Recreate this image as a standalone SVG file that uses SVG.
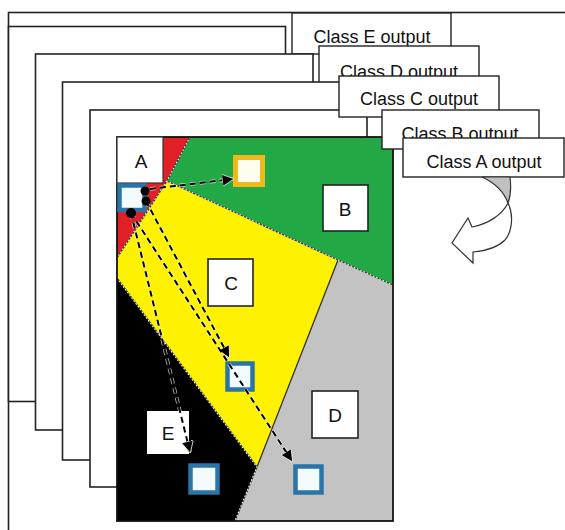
<svg xmlns="http://www.w3.org/2000/svg" width="565" height="530" viewBox="0 0 565 530">
<defs>
<style>
.page{fill:#fff;stroke:#222;stroke-width:1.6}
.cls{fill:#fff;stroke:#222;stroke-width:1.4}
.ct{font-family:"Liberation Sans",Arial,sans-serif;font-size:18px;fill:#111;text-anchor:middle}
.lbl{fill:#fff;stroke:#222;stroke-width:1.6}
.lt{font-family:"Liberation Sans",Arial,sans-serif;font-size:19px;fill:#111;text-anchor:middle}
.bnd{fill:none;stroke:#333;stroke-width:1.3}
.dot{fill:none;stroke:#fff;stroke-width:1.1;stroke-dasharray:1.5 2}
.halo{fill:none;stroke:#fff;stroke-width:3.6;stroke-dasharray:6 4;opacity:0.7}
.dash{fill:none;stroke:#000;stroke-width:2;stroke-dasharray:6 4}
.blue{fill:#f4fbff;stroke:#2a74a8;stroke-width:4.5}
</style>
<marker id="ah" viewBox="0 0 10 10" refX="9" refY="5" markerWidth="6" markerHeight="6" markerUnits="strokeWidth" orient="auto">
<path d="M0,0 L10,5 L0,10 z" fill="#000" stroke="#fff" stroke-width="0.6"/>
</marker>
</defs>
<rect width="565" height="530" fill="#fff"/>
<rect x="8.5" y="12.5" width="600" height="600" fill="#fff" stroke="#222" stroke-width="1.6"/>

<g id="page1"><rect class="page" x="8.5" y="26.5" width="277" height="375"/></g>
<g id="classE"><rect class="cls" x="292" y="13" width="159" height="41"/><text class="ct" x="372" y="43">Class E output</text></g>
<g id="page2"><rect class="page" x="35.5" y="54" width="277.5" height="376"/></g>
<g id="classD"><rect class="cls" x="319" y="46" width="160" height="37"/><text class="ct" x="399" y="78">Class D output</text></g>
<g id="page3"><rect class="page" x="62.5" y="82" width="280" height="378"/></g>
<g id="page4"><rect class="page" x="90" y="110" width="277" height="377"/></g>
<g id="classC"><rect class="cls" x="339" y="76" width="160" height="41"/><text class="ct" x="419" y="105">Class C output</text></g>

<g id="map">
<rect x="117" y="137" width="276" height="384" fill="#fff"/>
<polygon points="117,137 190,137 167,181 117,258" fill="#e01f26"/>
<polygon points="190,137 393,137 393,285 338,260 167,181" fill="#23a846"/>
<polygon points="167,181 338,260 257,467 117,278 117,258" fill="#fff200"/>
<polygon points="117,278 257,467 235,521 117,521" fill="#000"/>
<polygon points="338,260 393,285 393,521 235,521 257,467" fill="#c3c3c3"/>
<path class="bnd" d="M190,137 L167,181 L338,260 L393,285 M167,181 L117,258 M117,278 L257,467 L235,521 M338,260 L257,467"/>
<path class="dot" d="M190,137 L167,181 L338,260 L393,285 M167,181 L117,258 M117,278 L257,467 L235,521"/>
<rect x="117" y="137" width="276" height="384" fill="none" stroke="#111" stroke-width="1.8"/>
</g>

<g id="nodeA"><rect x="117" y="137" width="46" height="46" fill="#fff" stroke="#333" stroke-width="1.2"/><text class="lt" x="141" y="168">A</text></g>
<g id="nodeB"><rect class="lbl" x="323" y="185" width="45" height="46"/><text class="lt" x="345" y="216">B</text></g>
<g id="nodeC"><rect class="lbl" x="208" y="259" width="45" height="47"/><text class="lt" x="231" y="290">C</text></g>
<g id="nodeD"><rect class="lbl" x="312" y="391" width="46" height="47"/><text class="lt" x="335" y="422">D</text></g>
<g id="nodeE"><rect x="147" y="411" width="42" height="43" fill="#fff"/><text class="lt" x="168" y="440">E</text></g>

<g id="source"><rect class="blue" x="119.5" y="185.5" width="25" height="24.5"/></g>
<g id="targetB"><rect x="235.5" y="157.5" width="27" height="27" fill="#fffdf0" stroke="#f0b818" stroke-width="5"/></g>
<g id="targetC"><rect class="blue" x="227.5" y="363.5" width="25" height="26"/></g>
<g id="targetE"><rect class="blue" x="190.5" y="465.5" width="27" height="27"/></g>
<g id="targetD"><rect class="blue" x="295.5" y="466.5" width="26" height="26"/></g>

<g id="connectors">
<path class="halo" d="M150,189 L233,179"/>
<path class="halo" d="M146,201 L229,357"/>
<path class="halo" d="M131,213 L292,461"/>
<path class="halo" d="M131,213 L190,452"/>
<path class="dash" d="M150,189 L233,179" marker-end="url(#ah)"/>
<path class="dash" d="M146,201 L229,357" marker-end="url(#ah)"/>
<path class="dash" d="M131,213 L292,461" marker-end="url(#ah)"/>
<path class="dash" d="M131,213 L190,452" marker-end="url(#ah)"/>
<circle cx="145" cy="191" r="4.5" fill="#000"/>
<circle cx="146" cy="201" r="4.5" fill="#000"/>
<circle cx="131" cy="213" r="5" fill="#000"/>
</g>

<g id="classB"><rect class="cls" x="382" y="110" width="157" height="39"/><text class="ct" x="460" y="140">Class B output</text></g>
<g id="classA"><rect class="cls" x="403" y="138" width="161" height="39"/><text class="ct" x="484" y="168">Class A output</text></g>

<g id="curvedArrow">
<path d="M508,203 C514,215 512,232 505,240 C497,248 485,251 473,252 L473,263 L452,243 L468,218 L472,227 C488,224 502,215 508,203 Z" fill="#fff" stroke="#333" stroke-width="1.2"/>
<path d="M482,177 C495,183 504,192 508,203 C511,195 511,185 510,177 Z" fill="#c0c0c0" stroke="#333" stroke-width="1.2"/>
</g>
</svg>
